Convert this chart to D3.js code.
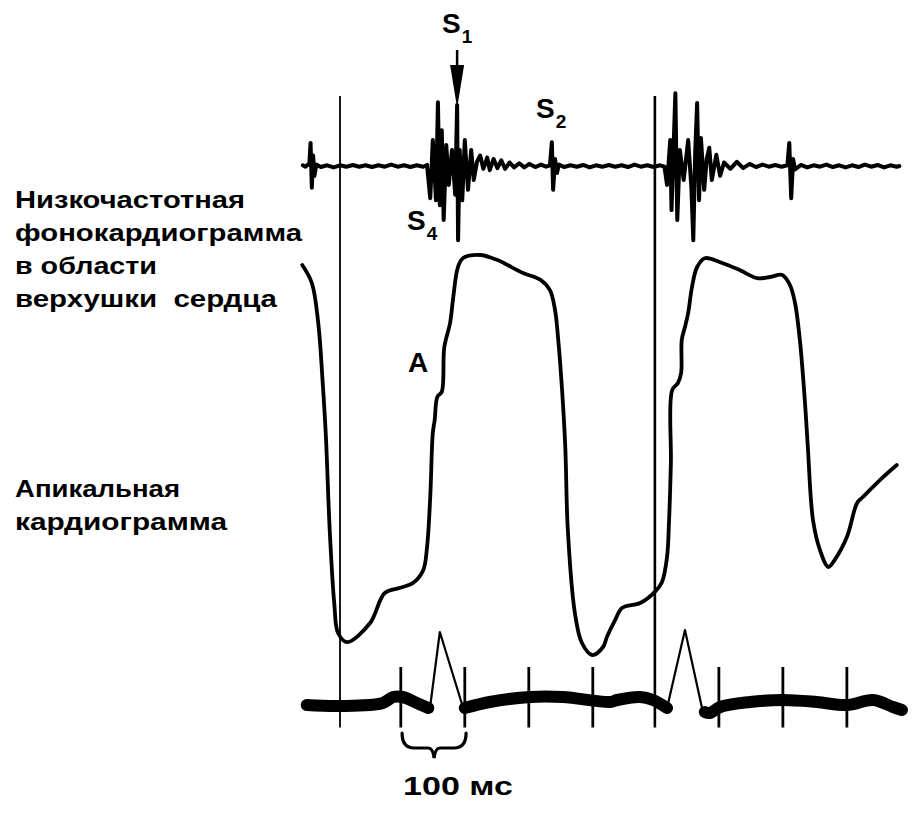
<!DOCTYPE html>
<html><head><meta charset="utf-8">
<script src="https://cdn.jsdelivr.net/npm/d3@7"></script>
<style>
body{margin:0;background:#fff}
svg{display:block;background:#fff}
text{font-family:"Liberation Sans",Arial,sans-serif;font-weight:bold;fill:#000;white-space:pre}
</style>
</head><body>
<svg id="c" width="917" height="815"></svg>
<script>
// ---------- DATA ----------
// Time in ms (0 = first vertical time line)
const apexT = [-59,-44,-34,-27,-22,-16,-9,-3,11,47,70,94,114,130,136,141,145,148,152,159,163,172,177,184,192,219,245,286,313,328,336,341,347,352,356,367,378,394,411,417,430,441,469,492,503,511,514,517,519,528,533,534,539,544,550,558,570,594,625,652,672,691,703,711,719,727,731,739,750,763,773,792,808,817,844,870];
const apexV = [97.5,93,83,68,54.5,31,13,5.5,3.2,8,15.5,16.8,18,21.2,27,39.5,55.5,58.8,64.5,65.8,77,83,89.5,96.8,99.2,100,98.8,95.5,93.8,91.2,86.2,78.8,66.2,52,31.2,10.5,3,0,2,4.5,8.8,11.8,13,15.8,18.2,24.5,33,48,66.2,68,70.5,78.8,82,85.5,92,97,99.2,98.2,96.2,94.2,94.5,95,92.5,88,78,62,52,33.8,26.2,22,23.8,29.5,38,39.5,43.8,47.5];

const phonoT = [-58,-54,-50,-48,-46,-44,-42,-40,-37,-30,-20,-10,0,10,20,30,40,50,60,70,80,90,100,110,120,130,136,
  141,145,150,153,156,159,162,166,170,175,180,183,184.5,187,191,195,200,205,209,214,219,224,230,234,240,246,252,258,265,272,280,288,296,305,314,322,328,331,333,336,339,342,350,360,370,380,390,400,410,420,430,440,450,460,470,480,490,500,507,
  511,516,518,524,527,531,537,544,549,552,555,558,561,564,569,573,577,581,588,594,600,610,620,630,640,650,660,670,680,690,699,702,705,708,711,720,730,740,750,760,770,780,790,800,810,820,830,840,850,860,870,874];
const phonoV = [0.01,-0.01,0.02,0.02,0.33,-0.31,0.15,-0.14,0.02,-0.015,0.01,-0.02,0.01,-0.01,0.015,-0.01,0.01,-0.015,0.01,-0.01,0.02,-0.01,0.01,-0.015,0.01,-0.01,0.015,
  -0.46,0.37,-0.49,0.91,-0.56,0.51,-0.77,0.3,-0.27,0.23,-0.41,0.87,-1.06,0.23,-0.49,0.37,-0.34,0.23,-0.2,0.06,0.15,-0.04,0.12,-0.06,0.1,-0.03,0.08,-0.04,0.05,-0.02,0.04,-0.02,0.03,-0.015,0.02,-0.01,0.01,0.34,-0.34,0.1,-0.1,0.02,-0.015,0.01,-0.01,0.015,-0.02,0.01,-0.01,0.015,-0.01,0.01,-0.015,0.02,-0.01,0.01,-0.015,0.01,-0.01,
  -0.27,0.37,-0.63,1.04,-0.77,0.23,-0.2,0.37,-0.3,-1.06,0.2,0.9,-0.49,0.4,-0.34,0.1,0.26,-0.2,0.16,-0.14,0.05,-0.04,0.06,-0.03,0.03,-0.015,0.02,-0.01,0.015,-0.01,0.01,0.33,-0.46,0.1,-0.05,0.015,-0.02,0.01,-0.01,0.02,-0.015,0.01,-0.02,0.01,-0.015,0.02,-0.01,0.015,-0.02,0.01,-0.01,0.0];

// ECG: baseline segments (thick) and QRS complexes (thin)
const ecgBase1T = [-52,0,67,83,98,120,138];
const ecgBase1V = [0,-0.02,0.04,0.16,0.16,0.04,-0.06];
const ecgQrs1T = [141,156,192];
const ecgQrs1V = [-0.02,1.46,-0.04];
const ecgBase2T = [195,234,297,348,422,433,469,489,511];
const ecgBase2V = [-0.06,0.06,0.16,0.16,0.06,0.1,0.16,0.1,-0.06];
const ecgQrs2T = [511,539,567];
const ecgQrs2V = [-0.06,1.5,-0.14];
const ecgBase3T = [570,578,594,641,692,745,792,833,864,878];
const ecgBase3V = [-0.14,-0.16,-0.04,0.06,0.1,0.06,0,0.1,-0.04,-0.1];

const ecgTickTimes = [95,195,295,395,592,692,792];
const markerTimes = [0,492];

const leftLabels1 = ["Низкочастотная","фонокардиограмма","в области","верхушки  сердца"];
const leftLabels2 = ["Апикальная","кардиограмма"];
const scaleLabel = "100 мс";

// ---------- SCALES ----------
const svg = d3.select("#c");
const x = d3.scaleLinear().domain([0,500]).range([340,660]);
const phonoY = d3.scaleLinear().domain([-1,1]).range([236,96]);
const apexY = d3.scaleLinear().domain([0,100]).range([655,255]);
const ecgY = d3.scaleLinear().domain([0,1]).range([705,655]);

const zip = (T,V) => T.map((t,i)=>[t,V[i]]);

// ---------- vertical time lines ----------
svg.selectAll("line.marker").data(markerTimes).enter().append("line")
  .attr("class","marker")
  .attr("x1",d=>x(d)).attr("x2",d=>x(d))
  .attr("y1",phonoY(1.0)).attr("y2",ecgY(-0.45))
  .attr("stroke","#000").attr("stroke-width",(d,i)=>i===0?1.8:2.6);

// ---------- phonocardiogram ----------
svg.append("path").datum(zip(phonoT,phonoV))
  .attr("d",d3.line().x(d=>x(d[0])).y(d=>phonoY(d[1])))
  .attr("fill","none").attr("stroke","#000").attr("stroke-width",4)
  .attr("stroke-linejoin","round").attr("stroke-linecap","round");

// ---------- apex cardiogram ----------
svg.append("path").datum(zip(apexT,apexV))
  .attr("d",d3.line().x(d=>x(d[0])).y(d=>apexY(d[1])).curve(d3.curveCatmullRom.alpha(0.5)))
  .attr("fill","none").attr("stroke","#000").attr("stroke-width",3.8)
  .attr("stroke-linejoin","round").attr("stroke-linecap","round");

// ---------- ECG ----------
const ecgLine = d3.line().x(d=>x(d[0])).y(d=>ecgY(d[1])).curve(d3.curveCatmullRom.alpha(0.5));
[[ecgBase1T,ecgBase1V],[ecgBase2T,ecgBase2V],[ecgBase3T,ecgBase3V]].forEach(([T,V])=>{
  svg.append("path").datum(zip(T,V)).attr("d",ecgLine)
    .attr("fill","none").attr("stroke","#000").attr("stroke-width",12)
    .attr("stroke-linecap","round").attr("stroke-linejoin","round");
});
const qrsLine = d3.line().x(d=>x(d[0])).y(d=>ecgY(d[1]));
[[ecgQrs1T,ecgQrs1V],[ecgQrs2T,ecgQrs2V]].forEach(([T,V])=>{
  svg.append("path").datum(zip(T,V)).attr("d",qrsLine)
    .attr("fill","none").attr("stroke","#000").attr("stroke-width",2.2)
    .attr("stroke-linejoin","round");
});
svg.selectAll("line.tick").data(ecgTickTimes).enter().append("line")
  .attr("class","tick")
  .attr("x1",d=>x(d)).attr("x2",d=>x(d))
  .attr("y1",ecgY(0.76)).attr("y2",ecgY(-0.45))
  .attr("stroke","#000").attr("stroke-width",2.8);

// ---------- 100 ms brace ----------
{
  const x0 = x(97), x1 = x(197), xm = (x0+x1)/2, yt = 733, yb = 748, yp = 758;
  const p = `M${x0},${yt} Q${x0},${yb} ${x0+12},${yb} L${xm-6},${yb} Q${xm-1},${yb} ${xm},${yp} Q${xm+1},${yb} ${xm+6},${yb} L${x1-12},${yb} Q${x1},${yb} ${x1},${yt}`;
  svg.append("path").attr("d",p).attr("fill","none").attr("stroke","#000").attr("stroke-width",3.2).attr("stroke-linecap","round");
}
svg.append("text").attr("x",403).attr("y",795).attr("font-size",26)
  .attr("textLength",110).attr("lengthAdjust","spacingAndGlyphs").text(scaleLabel);

// ---------- S1 arrow ----------
{
  const xa = x(183);
  svg.append("line").attr("x1",xa).attr("x2",xa).attr("y1",50).attr("y2",68)
    .attr("stroke","#000").attr("stroke-width",2.5);
  svg.append("path").attr("d",`M${xa-7},65 L${xa+7},65 L${xa},108 Z`).attr("fill","#000");
}

// ---------- S labels ----------
function sLabel(xp, yb, sub){
  const t = svg.append("text").attr("x",xp).attr("y",yb).attr("font-size",28);
  t.append("tspan").text("S");
  t.append("tspan").attr("font-size",19).attr("dy",10).attr("dx",1).text(sub);
}
sLabel(442,33,"1");
sLabel(536,118,"2");
sLabel(407,230,"4");
svg.append("text").attr("x",408).attr("y",372).attr("font-size",28).text("A");

// ---------- left labels ----------
const w1 = [230,287,142,262], b1 = [208,241,274,307];
leftLabels1.forEach((s,i)=>svg.append("text").attr("x",15).attr("y",b1[i]).attr("font-size",23)
  .attr("textLength",w1[i]).attr("lengthAdjust","spacingAndGlyphs").text(s));
const w2 = [165,212], b2 = [497,530];
leftLabels2.forEach((s,i)=>svg.append("text").attr("x",15).attr("y",b2[i]).attr("font-size",23)
  .attr("textLength",w2[i]).attr("lengthAdjust","spacingAndGlyphs").text(s));
</script>
</body></html>
